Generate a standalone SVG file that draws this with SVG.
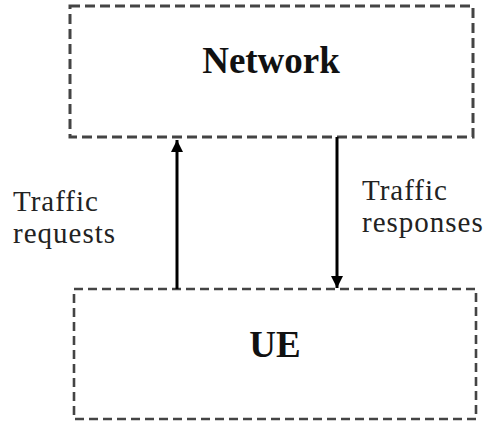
<svg xmlns="http://www.w3.org/2000/svg" width="485" height="425" viewBox="0 0 485 425">
<defs>
<style>
.box{fill:none;stroke:#444;stroke-width:3;stroke-dasharray:10 5}
.box2{fill:none;stroke:#444;stroke-width:2.6;stroke-dasharray:9 5}
.lbl{font-family:"Liberation Serif",serif;font-size:29px;letter-spacing:1px;fill:#222}
.ttl{font-family:"Liberation Serif",serif;font-size:37px;font-weight:bold;fill:#111;text-anchor:middle}
.arr{stroke:#000;stroke-width:3;fill:none}
</style>
<marker id="ah" viewBox="0 0 12 12" refX="12" refY="6" markerWidth="12" markerHeight="12" markerUnits="userSpaceOnUse" orient="auto">
<path d="M0,0 L12,6 L0,12 z" fill="#000"/>
</marker>
</defs>
<rect width="485" height="425" fill="#fff"/>
<g id="network">
<rect class="box" x="70" y="6" width="403" height="131"/>
<text class="ttl" x="271" y="73">Network</text>
</g>
<g id="ue">
<rect class="box2" x="74" y="289" width="402" height="130"/>
<text class="ttl" x="275" y="357">UE</text>
</g>
<g id="connectors">
<line class="arr" x1="177" y1="289" x2="177" y2="140" marker-end="url(#ah)"/>
<line class="arr" x1="337" y1="137" x2="337" y2="288" marker-end="url(#ah)"/>
</g>
<g id="labels">
<text class="lbl" x="13" y="211">Traffic</text>
<text class="lbl" x="13" y="243">requests</text>
<text class="lbl" x="362" y="200">Traffic</text>
<text class="lbl" x="362" y="232">responses</text>
</g>
</svg>
